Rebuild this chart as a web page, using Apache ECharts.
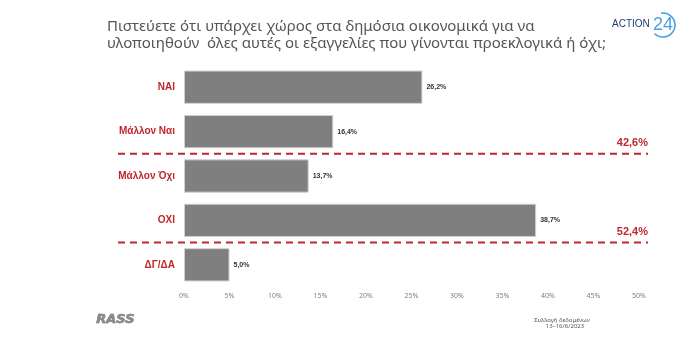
<!DOCTYPE html>
<html><head><meta charset="utf-8">
<script src="https://cdn.jsdelivr.net/npm/echarts@6/dist/echarts.min.js"></script>
<style>html,body{margin:0;padding:0;background:#fff}#c{width:699px;height:363px}</style>
</head><body><div id="c"></div>
<script>
const categories = ['ΝΑΙ', 'Μάλλον Ναι', 'Μάλλον Όχι', 'ΟΧΙ', 'ΔΓ/ΔΑ'];
const values = [26.2, 16.4, 13.7, 38.7, 5.0];
const groupBoundaries = [1, 3];
const groupTotals = ['42,6%', '52,4%'];
const xTicks = [0, 5, 10, 15, 20, 25, 30, 35, 40, 45, 50];
const titleLines = ['Πιστεύετε ότι υπάρχει χώρος στα δημόσια οικονομικά για να', 'υλοποιηθούν  όλες αυτές οι εξαγγελίες που γίνονται προεκλογικά ή όχι;'];
const footerLines = ['Συλλογή δεδομένων', '13–16/6/2023'];

const RED = '#c0262d';
const chart = echarts.init(document.getElementById('c'), null, {renderer: 'canvas'});
chart.setOption({
  animation: false,
  backgroundColor: '#fff',
  title: {
    text: titleLines.join('\n'), left: 102, top: 13,
    textStyle: {fontFamily: 'Noto Sans', fontSize: 15, fontWeight: 'normal', color: '#555', lineHeight: 17}
  },
  grid: {left: 184, right: 60, top: 65, bottom: 76},
  xAxis: {
    type: 'value', min: xTicks[0], max: xTicks[xTicks.length - 1], interval: 5,
    splitLine: {show: false}, axisLine: {show: false}, axisTick: {show: false},
    axisLabel: {formatter: v => v + '%', color: '#808080', fontSize: 7, fontFamily: 'Noto Sans', margin: 5}
  },
  yAxis: {
    type: 'category', data: categories, inverse: true,
    axisLine: {show: false}, axisTick: {show: false},
    axisLabel: {color: RED, fontWeight: 'bold', fontSize: 10, fontFamily: 'Liberation Sans', margin: 9}
  },
  series: [
    {
      type: 'bar', data: values, barCategoryGap: '25%',
      itemStyle: {color: '#7f7f7f', borderColor: '#d0d0d0', borderWidth: 1},
      label: {show: true, position: 'right', distance: 4, fontSize: 7, fontWeight: 'bold', color: '#333', fontFamily: 'Liberation Sans',
        formatter: p => p.value.toFixed(1).replace('.', ',') + '%'}
    },
    {
      type: 'custom', data: groupBoundaries, encode: {y: 0}, z: 5,
      renderItem: (params, api) => {
        const i = groupBoundaries[params.dataIndex];
        const a = api.coord([0, i]);
        const b = api.coord([0, i + 1]);
        const y = (a[1] + b[1]) / 2;
        const x0 = a[0] - 66;
        const x1 = api.coord([xTicks[xTicks.length - 1], i])[0] + 9;
        return {type: 'group', children: [
          {type: 'line', shape: {x1: x0, y1: y, x2: x1, y2: y}, style: {stroke: RED, lineWidth: 2, lineDash: [7, 5]}},
          {type: 'text', style: {text: groupTotals[params.dataIndex], x: x1, y: y - 5, align: 'right', verticalAlign: 'bottom',
            fill: RED, font: 'bold 11px "Liberation Sans"'}}
        ]};
      }
    }
  ],
  graphic: [
    {type: 'text', x: 612, y: 24, style: {text: 'ACTION', fill: '#1d3f7a', font: '10px "Liberation Sans"', verticalAlign: 'middle'}},
    {type: 'arc', shape: {cx: 663, cy: 25, r: 12, startAngle: -Math.PI * 0.55, endAngle: Math.PI * 0.75}, style: {fill: 'none', stroke: '#4aa3df', lineWidth: 1.6}},
    {type: 'text', x: 663, y: 25, style: {text: '24', fill: '#4aa3df', font: '18px "Liberation Sans"', align: 'center', verticalAlign: 'middle'}},
    {type: 'text', left: 96, top: 313, style: {text: 'RASS', fill: '#8a8a8a', stroke: '#555', lineWidth: 0.5, font: 'italic bold 13px "DejaVu Sans"'}},
    {type: 'text', x: 562, y: 320, style: {text: footerLines[0], fill: '#555', font: '6px "Noto Sans"', align: 'center', verticalAlign: 'middle'}},
    {type: 'text', x: 565, y: 326, style: {text: footerLines[1], fill: '#555', font: '6px "Noto Sans"', align: 'center', verticalAlign: 'middle'}}
  ]
});
</script></body></html>
